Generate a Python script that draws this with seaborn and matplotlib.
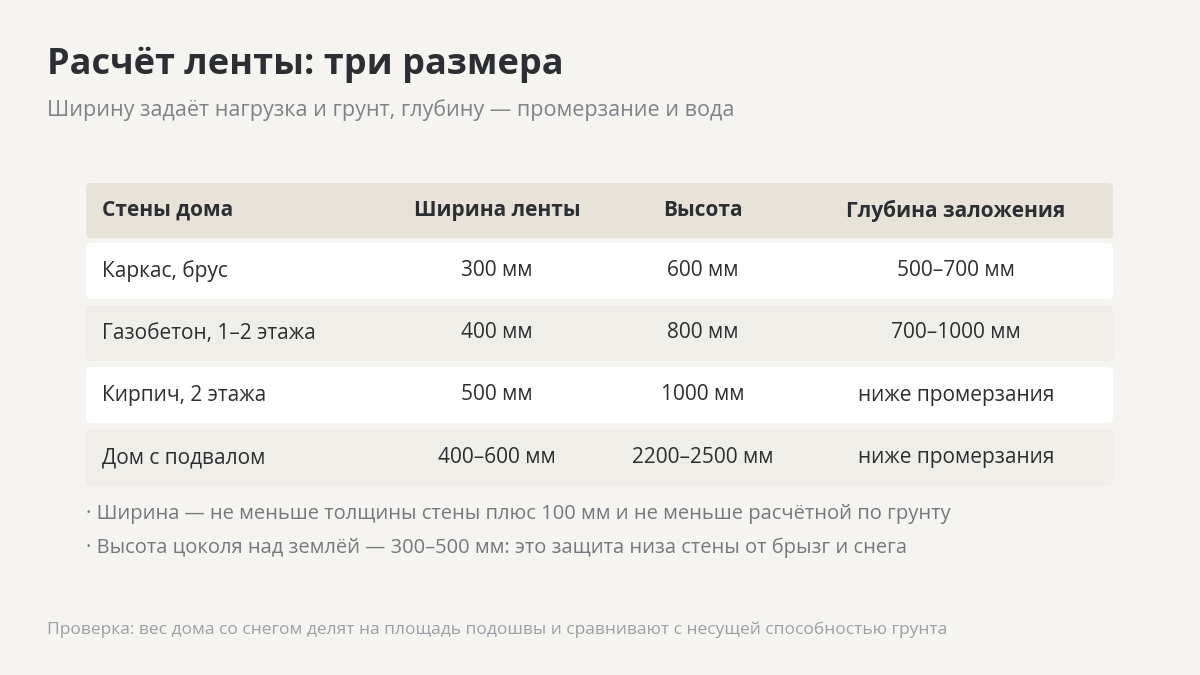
import matplotlib
matplotlib.use("Agg")
import matplotlib.pyplot as plt
import seaborn as sns
from matplotlib.patches import FancyBboxPatch

sns.set_theme(style="white")
plt.rcParams['font.family'] = ['Open Sans', 'DejaVu Sans']

title = "Расчёт ленты: три размера"
subtitle = "Ширину задаёт нагрузка и грунт, глубину — промерзание и вода"
headers = ["Стены дома", "Ширина ленты", "Высота", "Глубина заложения"]
walls = ["Каркас, брус", "Газобетон, 1–2 этажа", "Кирпич, 2 этажа", "Дом с подвалом"]
widths = ["300 мм", "400 мм", "500 мм", "400–600 мм"]
heights = ["600 мм", "800 мм", "1000 мм", "2200–2500 мм"]
depths = ["500–700 мм", "700–1000 мм", "ниже промерзания", "ниже промерзания"]
notes = ["· Ширина — не меньше толщины стены плюс 100 мм и не меньше расчётной по грунту",
         "· Высота цоколя над землёй — 300–500 мм: это защита низа стены от брызг и снега"]
footer = "Проверка: вес дома со снегом делят на площадь подошвы и сравнивают с несущей способностью грунта"

BG = "#f6f4f0"
fig = plt.figure(figsize=(12, 6.75), dpi=100, facecolor=BG)
ax = fig.add_axes([0, 0, 1, 1])
ax.set_xlim(0, 1200); ax.set_ylim(675, 0); ax.axis("off")
ax.set_facecolor(BG)

ax.text(47, 65, title, fontsize=26, fontweight="bold", color="#2b2f33", va="center")
ax.text(47, 110, subtitle, fontsize=15.5, color="#7d8388", va="center")

x0, x1 = 86, 1113
col_x = [102, 497, 703, 956]
aligns = ["left", "center", "center", "center"]
row_tops = [183, 243, 305, 367, 429]
row_h = [55, 56, 56, 56, 57]
fills = ["#e8e3d8", "#ffffff", "#f0eee8", "#ffffff", "#f0eee8"]
rows = [headers] + [list(r) for r in zip(walls, widths, heights, depths)]
for i, (top, h, fc, row) in enumerate(zip(row_tops, row_h, fills, rows)):
    ax.add_patch(FancyBboxPatch((x0, top), x1 - x0, h, boxstyle="round,pad=0,rounding_size=5",
                                fc=fc, ec="none"))
    yc = top + h / 2
    for x, al, t in zip(col_x, aligns, row):
        ax.text(x, yc, t, fontsize=15, ha=al, va="center", color="#2b2f33",
                fontweight="bold" if i == 0 else "normal")

for y, n in zip([514, 548], notes):
    ax.text(86, y, n, fontsize=14.5, color="#737a7f", va="center")
ax.text(47, 630, footer, fontsize=12.5, color="#9aa0a5", va="center")

fig.savefig("out.png", dpi=100, facecolor=BG)
